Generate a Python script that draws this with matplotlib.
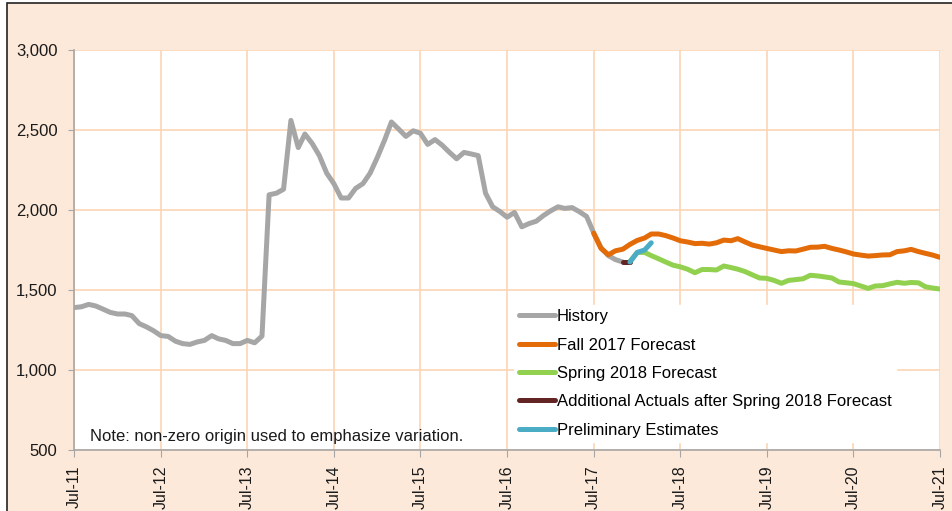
import numpy as np
import pandas as pd
import matplotlib
matplotlib.use("Agg")
import matplotlib.pyplot as plt
import matplotlib.dates as mdates
from matplotlib.patches import Rectangle

plt.rcParams['font.family'] = ['Liberation Sans', 'DejaVu Sans']

# monthly values, Jul-11 onward
history = [1390, 1395, 1410, 1400, 1380, 1360, 1350, 1350, 1340, 1290, 1270, 1245,
           1215, 1210, 1180, 1165, 1160, 1175, 1185, 1215, 1195, 1185, 1165, 1165,
           1185, 1170, 1212, 2095, 2105, 2130, 2560, 2390, 2475, 2415, 2340, 2230,
           2165, 2075, 2075, 2135, 2165, 2230, 2330, 2440, 2550, 2505, 2460, 2495,
           2480, 2410, 2440, 2405, 2360, 2320, 2360, 2350, 2340, 2105, 2020, 1990,
           1955, 1985, 1895, 1915, 1930, 1965, 1995, 2020, 2010, 2015, 1990, 1960,
           1858, 1765, 1715, 1690, 1675]
hist_start = 0

fall17 = [1855, 1760, 1720, 1745, 1755, 1785, 1810, 1825, 1850, 1850, 1840, 1825,
          1808, 1800, 1790, 1792, 1787, 1795, 1812, 1808, 1821, 1800, 1781, 1770,
          1760, 1750, 1740, 1745, 1744, 1755, 1767, 1768, 1773, 1760, 1750, 1738,
          1725, 1718, 1712, 1715, 1719, 1720, 1740, 1745, 1754, 1740, 1729, 1718,
          1704]
fall_start = 72

spring18 = [1678, 1735, 1735, 1715, 1695, 1675, 1655, 1645, 1630, 1608, 1628, 1628,
            1625, 1650, 1640, 1630, 1615, 1595, 1575, 1573, 1560, 1542, 1560, 1565,
            1570, 1592, 1588, 1582, 1575, 1550, 1545, 1540, 1525, 1510, 1525, 1527,
            1538, 1548, 1542, 1547, 1545, 1520, 1512, 1506]
spring_start = 77

actuals = [1675, 1675]
act_start = 76

prelim = [1675, 1735, 1750, 1795]
prelim_start = 77

months = pd.date_range("2011-07-01", periods=121, freq="MS")

peach = "#FDE9D9"
grid_c = "#FCD5B4"
axis_c = "#A6A6A6"
lw = 3.6

fig = plt.figure(figsize=(9.52, 5.11), dpi=100, facecolor="white")
fig.add_artist(Rectangle((7 / 952, -0.2), 1.5, 0.2 + 1 - 3 / 511,
                         transform=fig.transFigure, facecolor=peach,
                         edgecolor="#222222", linewidth=1.2, zorder=-10))

ax = fig.add_axes([74 / 952, 1 - 450 / 511, 866 / 952, 400 / 511])
ax.set_facecolor("white")


def series(vals, start):
    return months[start:start + len(vals)], vals


x, y = series(history, hist_start)
ax.plot(x, y, color="#A6A6A6", lw=lw, label="History", solid_capstyle="round", zorder=3)
x, y = series(fall17, fall_start)
ax.plot(x, y, color="#E36C09", lw=lw, label="Fall 2017 Forecast", solid_capstyle="round", zorder=4)
x, y = series(spring18, spring_start)
ax.plot(x, y, color="#92D050", lw=lw, label="Spring 2018 Forecast", solid_capstyle="round", zorder=4)
x, y = series(actuals, act_start)
ax.plot(x, y, color="#632523", lw=lw, label="Additional Actuals after Spring 2018 Forecast",
        solid_capstyle="round", zorder=5)
x, y = series(prelim, prelim_start)
ax.plot(x, y, color="#4BACC6", lw=lw, label="Preliminary Estimates", solid_capstyle="round", zorder=5)

ax.set_xlim(months[0], months[120])
ax.set_ylim(500, 3000)
ax.set_yticks(np.arange(500, 3001, 500))
ax.yaxis.set_major_formatter(matplotlib.ticker.FuncFormatter(lambda v, p: f"{int(v):,}"))
ax.xaxis.set_major_locator(mdates.MonthLocator(bymonth=7))
ax.xaxis.set_major_formatter(mdates.DateFormatter("%b-%y"))
plt.setp(ax.get_xticklabels(), rotation=90)

ax.grid(True, color=grid_c, lw=1.2, zorder=0)
ax.set_axisbelow(True)
for s in ["top", "right"]:
    ax.spines[s].set_visible(False)
for s in ["left", "bottom"]:
    ax.spines[s].set_color(axis_c)
    ax.spines[s].set_linewidth(1.2)
ax.tick_params(axis="y", length=4, color=axis_c, pad=8, labelsize=12, labelcolor="#1a1a1a")
ax.tick_params(axis="x", length=5, color=axis_c, pad=6, labelsize=11.5, labelcolor="#1a1a1a")

leg = ax.legend(loc="lower left", bbox_to_anchor=(0.499, 0.0), frameon=True,
                fancybox=False, framealpha=1, edgecolor="white", fontsize=12,
                handlelength=2.2, handletextpad=0.1, labelspacing=0.8, borderpad=0.25)
leg.set_zorder(6)
for h in leg.get_lines():
    h.set_solid_capstyle("round")

ax.text(0.019, 0.015, "Note: non-zero origin used to emphasize variation.",
        transform=ax.transAxes, fontsize=12, va="bottom", ha="left", color="#1a1a1a", zorder=7)

fig.savefig("out.png", dpi=100)
